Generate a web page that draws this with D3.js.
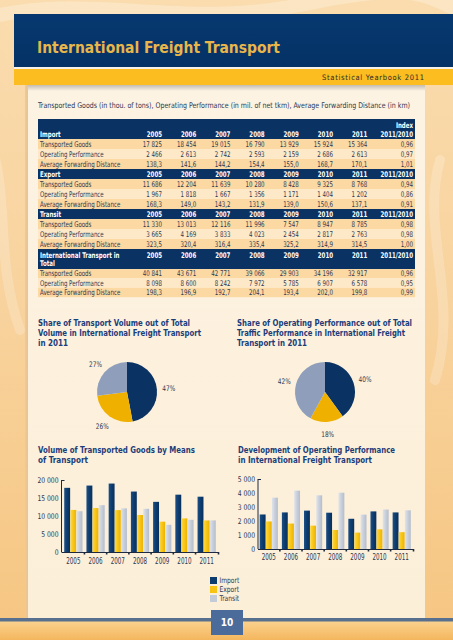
<!DOCTYPE html>
<html><head><meta charset="utf-8">
<script src="https://cdn.jsdelivr.net/npm/d3@7"></script>
<style>
html,body{margin:0;padding:0;background:#f8d6a2;overflow:hidden;}
svg{display:block;}
text{font-family:"Liberation Sans Narrow","Arial Narrow","DejaVu Sans Condensed","Liberation Sans",sans-serif;}
</style></head><body>
<svg id="c" width="453" height="640"></svg>
<script>
// ---------------- DATA ----------------
const years = ["2005","2006","2007","2008","2009","2010","2011"];
const rowLabels = ["Transported Goods","Operating Performance","Average Forwarding Distance"];

const importGoods = [17825,18454,19015,16790,13929,15924,15364];
const importPerf  = [2466,2613,2742,2593,2159,2686,2613];
const importDist  = [138.3,141.6,144.2,154.4,155.0,168.7,170.1];
const importIndex = [0.96,0.97,1.01];

const exportGoods = [11686,12204,11639,10280,8428,9325,8768];
const exportPerf  = [1967,1818,1667,1356,1171,1404,1202];
const exportDist  = [168.3,149.0,143.2,131.9,139.0,150.6,137.1];
const exportIndex = [0.94,0.86,0.91];

const transitGoods = [11330,13013,12116,11996,7547,8947,8785];
const transitPerf  = [3665,4169,3833,4023,2454,2817,2763];
const transitDist  = [323.5,320.4,316.4,335.4,325.2,314.9,314.5];
const transitIndex = [0.98,0.98,1.00];

const totalGoods = [40841,43671,42771,39066,29903,34196,32917];
const totalPerf  = [8098,8600,8242,7972,5785,6907,6578];
const totalDist  = [198.3,196.9,192.7,204.1,193.4,202.0,199.8];
const totalIndex = [0.96,0.95,0.99];

const seriesNames = ["Import","Export","Transit"];
const volumeShare2011 = [47,26,27];
const perfShare2011   = [40,18,42];
const volumeTicks = [0,5000,10000,15000,20000];
const perfTicks   = [0,1000,2000,3000,4000,5000];

// ---------------- STYLE ----------------
const TXT = "#2b3650", TITLE = "#1b3d7a";
const ORANGE_ROW = "#fcd9a2", LIGHT_ROW = "#fde9c8";
const COLORS = {Import:"#0d3c6e", Export:"#f7c416", Transit:"#c3cbd8"};

const fmtInt = v => d3.format(",")(v).replace(/,/g, " ");
const fmtDec = v => v.toFixed(1).replace(".", ",");
const fmtIdx = v => v.toFixed(2).replace(".", ",");

const svg = d3.select("#c");
const defs = svg.append("defs");

function condense(sel, k){
  sel.each(function(){
    const len = this.getComputedTextLength();
    if (len > 0) d3.select(this).attr("textLength", len * k).attr("lengthAdjust","spacingAndGlyphs");
  });
}
function linGrad(id, stops, vertical){
  const g = defs.append("linearGradient").attr("id", id)
    .attr("x1",0).attr("y1",0).attr("x2", vertical?0:1).attr("y2", vertical?1:0);
  stops.forEach(s => g.append("stop").attr("offset", s[0]).attr("stop-color", s[1]));
}
function radGrad(id, cx, cy, r, stops){
  const g = defs.append("radialGradient").attr("id", id).attr("gradientUnits","userSpaceOnUse")
    .attr("cx",cx).attr("cy",cy).attr("r",r).attr("fx",cx).attr("fy",cy);
  stops.forEach(s => g.append("stop").attr("offset", s[0]).attr("stop-color", s[1]));
}

// ---------------- BACKGROUND ----------------
linGrad("bg", [[0,"#fadcae"],[0.5,"#f8d29c"],[1,"#f6c682"]], true);
linGrad("panel", [[0,"#fdf3e3"],[1,"#fcefd8"]], true);
linGrad("bottom", [[0,"#fbd28e"],[1,"#f4b65e"]], true);
linGrad("hdr", [[0,"#06386f"],[1,"#053266"]], true);
linGrad("shadow", [[0,"#b9b3a8"],[1,"#fdf3e3"]], true);
linGrad("lshadow", [[0,"#f3c98f"],[1,"#e3c49a"]], false);

svg.append("rect").attr("width",453).attr("height",640).attr("fill","url(#bg)");
const sw = svg.append("g").attr("fill","none").attr("stroke","#fff").attr("stroke-linecap","round");
sw.append("path").attr("d","M-20,20 C80,-10 180,30 300,5 S420,-5 470,15").attr("stroke-width",14).attr("opacity",0.25);
sw.append("path").attr("d","M-10,140 C10,200 -5,260 20,330").attr("stroke-width",10).attr("opacity",0.2);
sw.append("path").attr("d","M440,160 C420,230 460,300 435,380").attr("stroke-width",10).attr("opacity",0.2);

svg.append("rect").attr("x",25).attr("y",84).attr("width",3).attr("height",535).attr("fill","url(#lshadow)");
svg.append("rect").attr("x",28).attr("y",84).attr("width",397).attr("height",535).attr("fill","url(#panel)");
svg.append("rect").attr("x",28).attr("y",84).attr("width",397).attr("height",7).attr("fill","url(#shadow)");

svg.append("rect").attr("x",14).attr("y",14).attr("width",439).attr("height",53).attr("fill","url(#hdr)");
svg.append("rect").attr("x",14).attr("y",67).attr("width",439).attr("height",2).attr("fill","#f4f1ea");
svg.append("rect").attr("x",14).attr("y",69).attr("width",439).attr("height",16).attr("fill","#fbbd1f");
svg.append("text").attr("x",37).attr("y",53).attr("font-size",16.5).attr("font-weight","bold")
  .attr("fill","#e8b64a").attr("textLength",243).attr("lengthAdjust","spacingAndGlyphs")
  .text("International Freight Transport");
svg.append("text").attr("x",424).attr("y",80).attr("text-anchor","end").attr("font-size",7.5)
  .attr("fill","#2a2a2a").attr("textLength",102).attr("lengthAdjust","spacing")
  .attr("font-family","Liberation Sans, sans-serif")
  .text("Statistical Yearbook 2011");

svg.append("text").attr("x",38).attr("y",105).attr("dy","0.35em").attr("font-size",7.8).attr("fill",TXT)
  .attr("textLength",372).attr("lengthAdjust","spacingAndGlyphs")
  .text("Transported Goods (in thou. of tons), Operating Performance (in mil. of net tkm), Average Forwarding Distance (in km)");

// ---------------- TABLE ----------------
const sections = [
  {name:["Import"], rows:[importGoods, importPerf, importDist], idx:importIndex, kind:"first", rh:10},
  {name:["Export"], rows:[exportGoods, exportPerf, exportDist], idx:exportIndex, kind:"single", rh:10},
  {name:["Transit"], rows:[transitGoods, transitPerf, transitDist], idx:transitIndex, kind:"single", rh:10},
  {name:["International Transport in","Total"], rows:[totalGoods, totalPerf, totalDist], idx:totalIndex, kind:"two", rh:9.4}
];
const colX = d3.scalePoint().domain(years).range([162, 367.2]);
const idxX = 413, tL = 38, tW = 377, labX = 40, FS = 7.8;
const tbl = svg.append("g").attr("font-size",FS);
let ty = 119;
function cell(x, y, txt, opts){
  const t = tbl.append("text").attr("class","tc").attr("x",x).attr("y",y).attr("dy","0.35em").text(txt)
    .attr("fill", opts.fill || TXT).attr("text-anchor", opts.anchor || "end");
  if (opts.bold) t.attr("font-weight","bold");
  return t;
}
sections.forEach(s => {
  const hh = s.kind === "single" ? 10 : 20;
  tbl.append("rect").attr("x",tL).attr("y",ty).attr("width",tW).attr("height",hh).attr("fill","#0a3263");
  let lineY;
  if (s.kind === "first") {
    cell(idxX, ty+6, "Index", {fill:"#fff", bold:true});
    lineY = ty + 15.3;
    cell(labX, lineY, s.name[0], {fill:"#fff", bold:true, anchor:"start"});
  } else if (s.kind === "two") {
    lineY = ty + 6;
    cell(labX, lineY, s.name[0], {fill:"#fff", bold:true, anchor:"start"});
    cell(labX, ty+14.5, s.name[1], {fill:"#fff", bold:true, anchor:"start"});
  } else {
    lineY = ty + 5;
    cell(labX, lineY, s.name[0], {fill:"#fff", bold:true, anchor:"start"});
  }
  years.forEach(yr => cell(colX(yr), lineY, yr, {fill:"#fff", bold:true}));
  cell(idxX, lineY, "2011/2010", {fill:"#fff", bold:true});
  ty += hh;
  s.rows.forEach((vals, ri) => {
    tbl.append("rect").attr("x",tL).attr("y",ty).attr("width",tW).attr("height",s.rh)
      .attr("fill", ri === 1 ? LIGHT_ROW : ORANGE_ROW);
    const cy = ty + s.rh/2;
    cell(labX, cy, rowLabels[ri], {anchor:"start"});
    vals.forEach((v, i) => cell(colX(years[i]), cy, ri === 2 ? fmtDec(v) : fmtInt(v), {}));
    cell(idxX, cy, fmtIdx(s.idx[ri]), {});
    ty += s.rh;
  });
});
condense(tbl.selectAll("text.tc"), 0.78);

// ---------------- TITLES ----------------
function titleLines(x, y0, lines, lens){
  lines.forEach((l, i) => {
    svg.append("text").attr("x",x).attr("y",y0 + i*10).attr("dy","0.35em")
      .attr("font-size",8.6).attr("font-weight","bold").attr("fill",TITLE).text(l)
      .attr("textLength",lens[i]).attr("lengthAdjust","spacingAndGlyphs");
  });
}
titleLines(38, 323, ["Share of Transport Volume out of Total","Volume in International Freight Transport","in 2011"], [152,163,30]);
titleLines(237, 323, ["Share of Operating Performance out of Total","Traffic Performance in International Freight","Transport in 2011"], [175,168,70]);
titleLines(38, 450, ["Volume of Transported Goods by Means","of Transport"], [157,50]);
titleLines(238, 449.5, ["Development of Operating Performance","in International Freight Transport"], [157,134]);

// ---------------- PIES ----------------
function drawPie(cx, cy, r, shares, id){
  radGrad(id+"I", cx-8, cy-6, r*1.15, [[0,"#3b78b6"],[0.55,"#1b4f8b"],[1,"#0a3262"]]);
  radGrad(id+"E", cx-6, cy-4, r*1.15, [[0,"#ffe66a"],[0.55,"#fdcb18"],[1,"#f0b000"]]);
  radGrad(id+"T", cx-6, cy-6, r*1.15, [[0,"#e3e8f0"],[0.55,"#b9c3d5"],[1,"#8f9fbb"]]);
  const fills = [id+"I", id+"E", id+"T"];
  const pie = d3.pie().sort(null).value(d => d)(shares);
  const arc = d3.arc().innerRadius(0).outerRadius(r);
  const lab = d3.arc().innerRadius(r+12).outerRadius(r+12);
  const g = svg.append("g").attr("transform",`translate(${cx},${cy})`);
  g.selectAll("path").data(pie).join("path").attr("d",arc).attr("fill",(d,i) => `url(#${fills[i]})`);
  const t = g.selectAll("text").data(pie).join("text")
    .attr("transform", d => `translate(${lab.centroid(d)})`).attr("dy","0.35em")
    .attr("text-anchor","middle").attr("font-size",7.6).attr("fill",TXT)
    .text(d => d.data + "%");
  condense(t, 0.85);
}
drawPie(127, 392, 30, volumeShare2011, "p1");
drawPie(325, 392, 30, perfShare2011, "p2");

// ---------------- BARS ----------------
linGrad("bI", [[0,"#1c4f86"],[0.5,"#0d3c6e"],[1,"#082f5c"]]);
linGrad("bE", [[0,"#ffd93f"],[0.5,"#f8c518"],[1,"#ecb200"]]);
linGrad("bT", [[0,"#dfe3ea"],[0.5,"#c8cfdb"],[1,"#b4bdcc"]]);
const barFill = {Import:"url(#bI)", Export:"url(#bE)", Transit:"url(#bT)"};

function drawBars(cfg){
  const x = d3.scaleBand().domain(years).range([cfg.x0, cfg.x1]).paddingInner(0.18).paddingOuter(0.1);
  const xs = d3.scaleBand().domain(seriesNames).range([0, x.bandwidth()]).paddingInner(0.04);
  const y = d3.scaleLinear().domain([0, cfg.max]).range([cfg.yZero, cfg.yTop]);
  const g = svg.append("g");
  const data = years.map((yr, i) => ({yr, vals: seriesNames.map((s, k) => ({s, v: cfg.series[k][i]}))}));
  g.selectAll("g.grp").data(data).join("g").attr("class","grp")
    .attr("transform", d => `translate(${x(d.yr)},0)`)
    .selectAll("rect").data(d => d.vals).join("rect")
    .attr("x", d => xs(d.s)).attr("width", xs.bandwidth())
    .attr("y", d => y(d.v)).attr("height", d => cfg.yZero - y(d.v))
    .attr("fill", d => barFill[d.s]);
  const ax = g.append("g").attr("transform",`translate(${cfg.axisX},0)`)
    .call(d3.axisLeft(y).tickValues(cfg.ticks).tickFormat(fmtInt).tickSize(0).tickPadding(3));
  ax.select(".domain").remove();
  ax.selectAll("text").attr("font-size",7.8).attr("fill",TXT)
    .attr("font-family",'"Liberation Sans Narrow","DejaVu Sans Condensed",sans-serif');
  condense(ax.selectAll("text"), 0.86);
  g.append("line").attr("x1",cfg.axisX).attr("x2",cfg.axisX).attr("y1",cfg.yTop).attr("y2",cfg.yZero)
    .attr("stroke","#1e2a40").attr("stroke-width",1);
  g.append("line").attr("x1",cfg.axisX).attr("x2",cfg.axisX+3).attr("y1",cfg.yTop+0.5).attr("y2",cfg.yTop+0.5)
    .attr("stroke","#1e2a40").attr("stroke-width",1);
  g.append("line").attr("x1",cfg.axisX).attr("x2",cfg.x1+1).attr("y1",cfg.yZero+0.5).attr("y2",cfg.yZero+0.5)
    .attr("stroke","#1e2a40").attr("stroke-width",1);
  const gapX = years.slice(0,-1).map(yr => x(yr) + x.bandwidth() + (x.step()-x.bandwidth())/2);
  gapX.push(cfg.x1 + 0.5);
  g.selectAll("line.tk").data(gapX).join("line").attr("class","tk")
    .attr("x1", d => d).attr("x2", d => d).attr("y1", cfg.yZero).attr("y2", cfg.yZero+2.5)
    .attr("stroke","#1e2a40").attr("stroke-width",1.6);
  const yl = g.selectAll("text.yr").data(years).join("text").attr("class","yr")
    .attr("x", d => x(d) + x.bandwidth()/2).attr("y", cfg.yearY).attr("dy","0.35em")
    .attr("text-anchor","middle").attr("font-size",8.2).attr("fill",TXT).text(d => d);
  condense(yl, 0.76);
}
drawBars({x0:62, x1:218, axisX:61.5, yZero:552, yTop:480, max:20000, ticks:volumeTicks,
  series:[importGoods, exportGoods, transitGoods], yearY:561});
drawBars({x0:257.5, x1:413, axisX:258, yZero:549, yTop:479, max:5000, ticks:perfTicks,
  series:[importPerf, exportPerf, transitPerf], yearY:557});

// ---------------- LEGEND ----------------
const leg = svg.append("g").attr("transform","translate(210,577)");
seriesNames.forEach((s, i) => {
  leg.append("rect").attr("x",0).attr("y",i*9).attr("width",7).attr("height",7).attr("fill",COLORS[s]);
  leg.append("text").attr("class","lg").attr("x",9.5).attr("y",i*9+3.5).attr("dy","0.35em").attr("font-size",7.8)
    .attr("fill",TXT).text(s);
});
condense(leg.selectAll("text.lg"), 0.85);

// ---------------- FOOTER ----------------
svg.append("rect").attr("x",0).attr("y",621).attr("width",453).attr("height",19).attr("fill","url(#bottom)");
svg.append("rect").attr("x",0).attr("y",618).attr("width",453).attr("height",3.5).attr("fill","#58708f");
svg.append("rect").attr("x",211).attr("y",610).attr("width",32).attr("height",25).attr("fill","#4b6b9b");
svg.append("text").attr("x",227).attr("y",622.5).attr("dy","0.35em").attr("text-anchor","middle")
  .attr("font-size",10).attr("font-weight","bold").attr("fill","#fff")
  .attr("font-family","Liberation Sans, sans-serif").text("10");
</script>
</body></html>
